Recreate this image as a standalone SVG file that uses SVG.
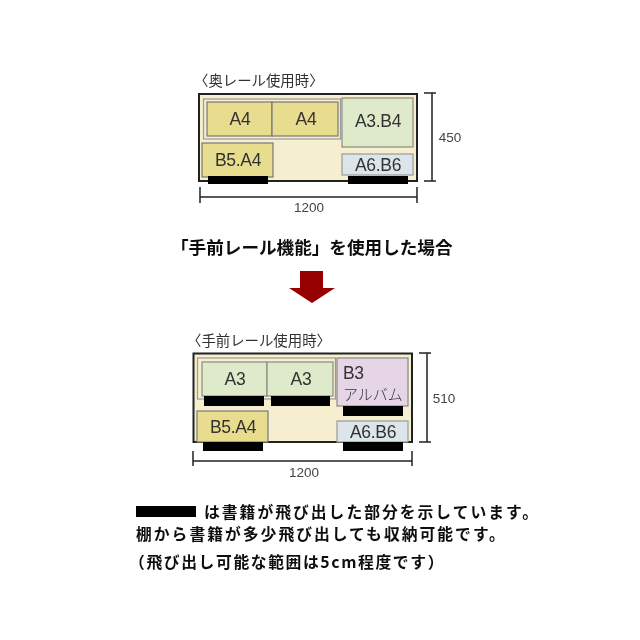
<svg xmlns="http://www.w3.org/2000/svg" width="640" height="640" viewBox="0 0 640 640">
<defs><filter id="soft" x="-5%" y="-5%" width="110%" height="110%"><feGaussianBlur stdDeviation="0.5"/></filter></defs>
<style>
text{font-family:"Liberation Sans","Noto Sans CJK JP",sans-serif;fill:#333;text-anchor:middle;dominant-baseline:central}
.l{font-size:17.500px;letter-spacing:-.3px}
.d{font-size:13.500px;fill:#444}
.c{font-family:"Noto Sans CJK JP",sans-serif;font-size:14.400px;text-anchor:start;fill:#333}
.j{font-family:"Noto Sans CJK JP",sans-serif;font-size:15.800px;letter-spacing:2px;text-anchor:start;fill:#111;font-weight:700}
.shelf{fill:#f6efcf;stroke:#222;stroke-width:2}
.rail{fill:#f6efcf;stroke:#999;stroke-width:1.2}
.y{fill:#e8dc8e;stroke:#777;stroke-width:1.2}
.g{fill:#dfeaca;stroke:#8a8a80;stroke-width:1.2}
.b{fill:#dce6ea;stroke:#999;stroke-width:1.2}
.p{fill:#e6d5e6;stroke:#888;stroke-width:1.2}
.k{fill:#000}
.dim{fill:none;stroke:#222;stroke-width:1.5}
</style>
<rect width="640" height="640" fill="#fff"/>
<g filter="url(#soft)">
<g id="top-diagram">
<text class="c" x="194" y="79">〈奥レール使用時〉</text>
<rect class="shelf" x="199" y="94" width="218" height="87"/>
<rect class="rail" x="203.500" y="99" width="137" height="40"/>
<g id="top-a4-1"><rect class="y" x="207" y="102" width="65" height="34"/><text class="l" x="240" y="119">A4</text></g>
<g id="top-a4-2"><rect class="y" x="272" y="102" width="66" height="34"/><text class="l" x="306" y="119">A4</text></g>
<g id="top-a3b4"><rect class="g" x="342" y="98" width="71" height="49"/><text class="l" x="378" y="121">A3.B4</text></g>
<g id="top-b5a4"><rect class="y" x="202" y="143" width="71" height="34"/><text class="l" x="238" y="160">B5.A4</text></g>
<g id="top-a6b6"><rect class="b" x="342" y="154" width="71" height="21"/><text class="l" x="378" y="165">A6.B6</text></g>
<rect class="k" x="208" y="176" width="60" height="8"/>
<rect class="k" x="348" y="176" width="60" height="8"/>
<g id="top-dims" class="dim">
<path d="M432 93V181M424 93H436M424 181H436"/>
<path d="M200 197H417M200 187V203M417 187V203"/>
</g>
<text class="d" x="450" y="137">450</text>
<text class="d" x="309" y="207">1200</text>
</g>

<g id="heading">
<text class="j" x="171" y="246" style="font-size:17.600px;letter-spacing:0">「手前レール機能」を使用した場合</text>
</g>
<polygon id="arrow" fill="#960000" points="300,271 323,271 323,288 335,288 312,303 289,288 300,288"/>

<g id="bottom-diagram">
<text class="c" x="187" y="339">〈手前レール使用時〉</text>
<path class="shelf" d="M193.500 442V353.500H412V442Z"/>
<rect class="rail" x="197.500" y="358" width="138" height="41"/>
<g id="bot-a3-1"><rect class="g" x="202" y="362" width="65" height="34"/><text class="l" x="235" y="379">A3</text></g>
<g id="bot-a3-2"><rect class="g" x="267" y="362" width="66" height="34"/><text class="l" x="301" y="379">A3</text></g>
<rect class="k" x="204" y="396" width="60" height="10"/>
<rect class="k" x="271" y="396" width="59" height="10"/>
<g id="bot-b3"><rect class="p" x="337" y="358" width="71" height="48"/><text class="l" x="343" y="373" style="text-anchor:start">B3</text><text class="c" x="343" y="393" style="font-size:15px;font-weight:300">アルバム</text></g>
<rect class="k" x="343" y="406" width="60" height="10"/>
<g id="bot-b5a4"><rect class="y" x="197" y="411" width="71" height="31"/><text class="l" x="233" y="427">B5.A4</text></g>
<rect class="k" x="203" y="442" width="60" height="9"/>
<g id="bot-a6b6"><rect class="b" x="337" y="421" width="71" height="21"/><text class="l" x="373" y="432">A6.B6</text></g>
<rect class="k" x="343" y="442" width="60" height="9"/>
<g id="bot-dims" class="dim">
<path d="M427 353V442M419 353H431M419 442H431"/>
<path d="M193 461H412M193 451V466M412 451V466"/>
</g>
<text class="d" x="444" y="398">510</text>
<text class="d" x="304" y="472">1200</text>
</g>

<g id="legend">
<rect class="k" x="136" y="506" width="60" height="11"/>
<text class="j" x="204" y="511">は書籍が飛び出した部分を示しています。</text>
<text class="j" x="136" y="533">棚から書籍が多少飛び出しても収納可能です。</text>
<text class="j" x="129" y="561" style="letter-spacing:1.6px">（飛び出し可能な範囲は5cm程度です）</text>
</g>
</g>
</svg>
